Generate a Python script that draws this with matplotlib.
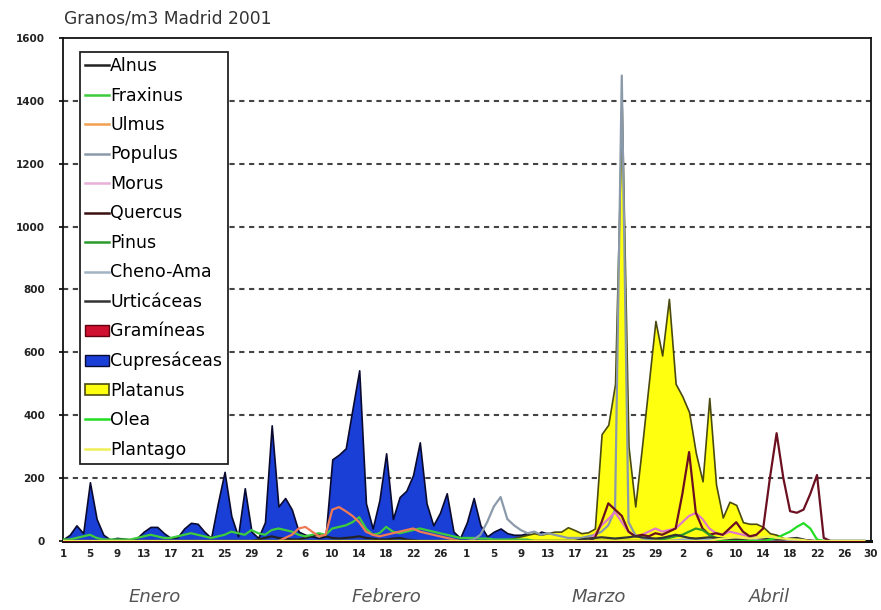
import matplotlib
matplotlib.use("Agg")
import matplotlib.pyplot as plt
from matplotlib.lines import Line2D
from matplotlib.patches import Patch
import numpy as np

# ---------------- data (daily values, day 0 = 1 Jan) ----------------
n_days = 120
tick_labels = ["1", "5", "9", "13", "17", "21", "25", "29", "2", "6", "10", "14", "18", "22", "26",
               "1", "5", "9", "13", "17", "21", "25", "29", "2", "6", "10", "14", "18", "22", "26", "30"]
months = ["Enero", "Febrero", "Marzo", "Abril"]
month_pos = [13.6, 48, 79.5, 105]

cupre_start = 0
cupre_vals = [5, 20, 50, 25, 187, 70, 20, 5, 10, 8,
              5, 10, 30, 45, 45, 25, 10, 12, 40, 58,
              55, 30, 10, 120, 220, 80, 15, 168, 30, 10,
              60, 368, 110, 137, 100, 30, 20, 15, 10, 15,
              260, 275, 295, 420, 543, 120, 40, 130, 279, 70,
              140, 160, 210, 314, 120, 50, 90, 152, 30, 10,
              60, 137, 50, 15, 30, 40, 25, 20, 20, 25,
              15, 30, 25, 10, 5, 3]

platanus_start = 66
platanus_vals = [5, 10, 15, 20, 25, 20, 25, 30, 30, 44,
                 35, 25, 28, 40, 340, 370, 500, 1380, 300, 110,
                 300, 500, 700, 590, 770, 500, 460, 410, 280, 190,
                 455, 180, 75, 125, 115, 60, 55, 55, 45, 25,
                 20, 10, 0]

gram_start = 98
gram_vals = [3, 5, 5, 6, 4, 5, 6, 8, 6, 5, 7, 8, 6, 5, 2, 0]

quercus_start = 78
quercus_vals = [0, 10, 60, 120, 100, 80, 30, 15, 20, 15,
                25, 20, 30, 40, 150, 283, 90, 40, 20, 25,
                20, 40, 60, 30, 15, 20, 40, 200, 343, 200,
                95, 90, 100, 150, 210, 10, 0]

morus_start = 78
morus_vals = [0, 20, 50, 70, 92, 60, 30, 15, 20, 30,
              40, 30, 35, 40, 60, 80, 89, 70, 40, 25,
              20, 30, 25, 20, 15, 10, 5, 0]

populus_start = 60
populus_vals = [0, 5, 20, 60, 110, 140, 70, 50, 35, 25,
                30, 20, 25, 20, 15, 10, 10, 10, 15, 20,
                30, 50, 100, 1480, 60, 20, 10, 5, 0]

ulmus_start = 32
ulmus_vals = [0, 10, 20, 40, 45, 30, 15, 20, 100, 108,
              95, 80, 60, 30, 20, 15, 20, 25, 30, 35,
              40, 30, 25, 20, 15, 10, 5, 0]

fraxinus_start = 0
fraxinus_vals = [5, 5, 10, 15, 20, 10, 5, 5, 5, 5,
                 5, 10, 15, 20, 15, 10, 10, 15, 20, 25,
                 20, 15, 10, 15, 20, 30, 25, 20, 35, 25,
                 20, 35, 40, 35, 30, 20, 15, 20, 25, 20,
                 40, 45, 50, 60, 76, 40, 20, 25, 45, 30,
                 25, 30, 35, 40, 35, 30, 25, 20, 15, 10,
                 10, 10, 8, 8, 5, 5, 5, 5, 5, 5, 0]

alnus_start = 28
alnus_vals = [0, 5, 10, 15, 10, 8, 5, 5, 10, 15,
              20, 15, 10, 8, 10, 12, 15, 10, 8, 5,
              5, 8, 10, 5, 3, 0]

pinus_start = 88
pinus_vals = [0, 5, 10, 15, 20, 30, 40, 35, 20, 10, 8, 5, 0]

urtica_start = 76
urtica_vals = [0, 5, 8, 10, 12, 10, 8, 10, 12, 15,
               12, 10, 8, 10, 15, 20, 15, 10, 8, 10,
               12, 10, 8, 6, 5, 5, 8, 10, 8, 6,
               5, 5, 8, 10, 5, 0]

olea_start = 104
olea_vals = [0, 5, 10, 20, 30, 45, 57, 40, 5, 0]

plantago_start = 96
plantago_vals = [0, 5, 8, 10, 12, 10, 8, 10, 12, 15, 10, 8, 6, 5, 3, 0]

cheno_start = 90
cheno_vals = [0, 3, 5, 5, 4, 5, 6, 5, 4, 5, 6, 5, 4, 3, 0]


def series(start, vals):
    y = np.zeros(n_days)
    y[start:start + len(vals)] = vals
    return y


days = np.arange(n_days)

# ---------------- figure ----------------
fig = plt.figure(figsize=(8.81, 6.10), dpi=100)
ax = fig.add_axes([0.0715, 0.113, 0.917, 0.825])
ax.set_xlim(0, 120)
ax.set_ylim(0, 1600)

# gridlines
for yv in range(200, 1600, 200):
    ax.axhline(yv, color="#444444", lw=1.5, ls=(0, (2.5, 2.2)), zorder=0)

# filled series
ax.fill_between(days, 0, series(cupre_start, cupre_vals), facecolor="#1a3fd6",
                edgecolor="#0a0a30", lw=1.2, zorder=2)
ax.fill_between(days, 0, series(platanus_start, platanus_vals), facecolor="#ffff10",
                edgecolor="#4a4a10", lw=1.2, zorder=2)
ax.fill_between(days, 0, series(gram_start, gram_vals), facecolor="#d01030",
                edgecolor="#600010", lw=0.8, zorder=3)

# line series
line_specs = [
    (alnus_start, alnus_vals, "#222222"),
    (fraxinus_start, fraxinus_vals, "#3ccc3c"),
    (ulmus_start, ulmus_vals, "#f07a55"),
    (populus_start, populus_vals, "#8a9aaa"),
    (morus_start, morus_vals, "#e07ac8"),
    (quercus_start, quercus_vals, "#6b1020"),
    (pinus_start, pinus_vals, "#2a9a2a"),
    (cheno_start, cheno_vals, "#a0b4c4"),
    (urtica_start, urtica_vals, "#333333"),
    (olea_start, olea_vals, "#22dd22"),
    (plantago_start, plantago_vals, "#eeee55"),
]
for st, vals, col in line_specs:
    ax.plot(days, series(st, vals), color=col, lw=1.6, zorder=4)

# axes styling
for s in ax.spines.values():
    s.set_linewidth(1.3)
    s.set_color("#111111")
ax.spines["bottom"].set_linewidth(2.2)

ax.set_xticks(np.arange(0, 121, 4))
ax.set_xticklabels(tick_labels, fontsize=7.5, fontweight="bold", color="#222222")
ax.tick_params(axis="x", length=0, pad=6)
ax.set_yticks(np.arange(0, 1601, 200))
ax.set_yticklabels([str(v) for v in range(0, 1601, 200)], fontsize=7.5,
                   fontweight="bold", color="#222222")
ax.tick_params(axis="y", length=3, width=1.2, pad=10, direction="out")

trans = ax.get_xaxis_transform()
for m, p in zip(months, month_pos):
    ax.text(p, -0.112, m, transform=trans, ha="center", va="center",
            fontsize=13, fontstyle="italic", color="#555555")

fig.text(0.073, 0.970, "Granos/m3 Madrid 2001", fontsize=12.3, color="#333333",
         ha="left", va="center")

# legend
handles = [
    Line2D([], [], color="#222222", lw=1.8, label="Alnus"),
    Line2D([], [], color="#3ccc3c", lw=1.8, label="Fraxinus"),
    Line2D([], [], color="#f0a050", lw=1.8, label="Ulmus"),
    Line2D([], [], color="#8a9aaa", lw=1.8, label="Populus"),
    Line2D([], [], color="#e8b0d8", lw=1.8, label="Morus"),
    Line2D([], [], color="#3a1010", lw=1.8, label="Quercus"),
    Line2D([], [], color="#2a9a2a", lw=1.8, label="Pinus"),
    Line2D([], [], color="#a0b4c4", lw=1.8, label="Cheno-Ama"),
    Line2D([], [], color="#333333", lw=1.8, label="Urticáceas"),
    Patch(facecolor="#d01030", edgecolor="#600010", label="Gramíneas"),
    Patch(facecolor="#1a3fd6", edgecolor="#0a0a30", label="Cupresáceas"),
    Patch(facecolor="#ffff10", edgecolor="#4a4a10", lw=1.2, label="Platanus"),
    Line2D([], [], color="#22dd22", lw=1.8, label="Olea"),
    Line2D([], [], color="#eeee55", lw=1.8, label="Plantago"),
]
leg = ax.legend(handles=handles, loc="upper left", bbox_to_anchor=(0.021, 0.972),
                fontsize=12.5, labelspacing=0.66, handlelength=1.35, handleheight=0.6,
                handletextpad=0.1, borderpad=0.3, borderaxespad=0,
                fancybox=False, framealpha=1, edgecolor="#222222")
leg.get_frame().set_linewidth(1.3)
leg.set_zorder(6)

fig.savefig("out.png", dpi=100)
